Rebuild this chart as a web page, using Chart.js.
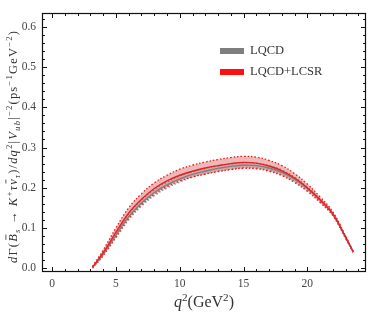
<!DOCTYPE html>
<html>
<head>
<meta charset="utf-8">
<script src="https://cdn.jsdelivr.net/npm/chart.js@4.4.1/dist/chart.umd.min.js"></script>
<style>
  html, body { margin: 0; background: #fff; }
  #wrap { width: 374px; height: 312px; }
</style>
</head>
<body>
<div id="wrap"><canvas id="chart"></canvas></div>
<script>
// Data (q^2 in GeV^2)
const q2 = [3.16, 4, 5, 6, 7, 8, 9, 10, 11, 12, 13, 14, 15, 16, 17, 18, 19, 20, 21, 22, 23, 23.6];

// LQCD+LCSR (red): central, upper and lower edge
const redMid = [0.002, 0.038, 0.089, 0.137, 0.171, 0.198, 0.217, 0.231, 0.241, 0.249, 0.255, 0.260, 0.263, 0.261, 0.254, 0.242, 0.224, 0.200, 0.170, 0.135, 0.077, 0.040];
const redHi  = [0.004, 0.045, 0.100, 0.150, 0.185, 0.212, 0.231, 0.246, 0.256, 0.264, 0.270, 0.275, 0.278, 0.276, 0.268, 0.255, 0.235, 0.209, 0.177, 0.140, 0.080, 0.041];
const redLo  = [0.000, 0.032, 0.078, 0.124, 0.158, 0.184, 0.203, 0.217, 0.227, 0.234, 0.240, 0.245, 0.248, 0.247, 0.241, 0.230, 0.213, 0.191, 0.163, 0.130, 0.074, 0.039];

// LQCD (gray)
const grayMid = [0.001, 0.034, 0.082, 0.128, 0.162, 0.188, 0.207, 0.222, 0.233, 0.241, 0.248, 0.253, 0.256, 0.255, 0.249, 0.238, 0.221, 0.198, 0.169, 0.134, 0.076, 0.040];
const grayHi  = [0.002, 0.038, 0.088, 0.135, 0.169, 0.195, 0.214, 0.229, 0.240, 0.248, 0.254, 0.259, 0.262, 0.261, 0.255, 0.244, 0.226, 0.202, 0.172, 0.136, 0.078, 0.041];
const grayLo  = [0.000, 0.030, 0.075, 0.120, 0.154, 0.180, 0.199, 0.214, 0.226, 0.234, 0.241, 0.246, 0.250, 0.249, 0.243, 0.232, 0.216, 0.194, 0.166, 0.132, 0.074, 0.039];

const xTickVals = [0, 5, 10, 15, 20];
const yTickVals = [0, 0.1, 0.2, 0.3, 0.4, 0.5, 0.6];
const legendLabels = ['LQCD', 'LQCD+LCSR'];

const RED = '#ff1010';
const GRAY = '#7f7f7f';
const SERIF = '"Liberation Serif", "DejaVu Serif", serif';

const pts = (ys) => q2.map((x, i) => ({ x, y: ys[i] }));
const line = (ys, color, order, extra = {}) => Object.assign({
  data: pts(ys), borderColor: color, borderWidth: 1.3, pointRadius: 0,
  tension: 0.4, fill: false, order
}, extra);

// y-axis title pieces: [text, italic, 'sub'|'sup'|null, bar]
const yTitle = [
  ['d', 1], ['Γ(', 0], ['B', 1, null, 1], ['s', 1, 'sub'], [' → ', 0], ['K', 1], ['+', 0, 'sup'],
  ['τ', 1], ['ν', 1, null, 1], ['τ', 1, 'sub'], [')/', 0], ['dq', 1], ['2', 0, 'sup'], ['|', 0],
  ['V', 1], ['ub', 1, 'sub'], ['|', 0], ['−2', 0, 'sup'], ['(ps', 0], ['−1', 0, 'sup'],
  ['GeV', 0], ['−2', 0, 'sup'], [')', 0]
];

// draws centred on the origin; if fitW is given the gaps between letters are widened to that width
function richText(ctx, parts, size, fitW) {
  const font = (p) => `${p[1] ? 'italic ' : ''}${p[2] ? size * 0.7 : size}px ${SERIF}`;
  let w = 0, n = 0;
  parts.forEach(p => { ctx.font = font(p); w += ctx.measureText(p[0]).width; n += [...p[0]].length; });
  const gap = fitW ? Math.max(0, (fitW - w) / (n - 1)) : 0;
  let x = -(w + gap * (n - 1)) / 2;
  parts.forEach(p => {
    ctx.font = font(p);
    const dy = p[2] === 'sub' ? size * 0.25 : p[2] === 'sup' ? -size * 0.4 : 0;
    const x0 = x;
    [...p[0]].forEach(ch => {
      ctx.fillText(ch, x, dy);
      x += ctx.measureText(ch).width + gap;
    });
    const tw = x - x0 - gap;
    if (p[3]) ctx.fillRect(x0 + tw * 0.25, -size * 0.92, tw * 0.7, 0.8);
  });
}

const decor = {
  id: 'decor',
  afterDatasetsDraw(chart) {
    const { ctx, chartArea: a, scales: { x, y } } = chart;
    ctx.save();
    // frame
    ctx.strokeStyle = '#111';
    ctx.lineWidth = 1.2;
    ctx.strokeRect(a.left + .5, a.top + .5, a.right - a.left - 1, a.bottom - a.top - 1);
    // inward ticks
    ctx.beginPath();
    ctx.lineWidth = 1;
    for (let v = 0; v <= 24; v++) {
      const px = Math.round(x.getPixelForValue(v)) + .5;
      const L = v % 5 ? 3 : 5;
      ctx.moveTo(px, a.bottom); ctx.lineTo(px, a.bottom - L);
      ctx.moveTo(px, a.top); ctx.lineTo(px, a.top + L);
    }
    for (let k = 0; k <= 31; k++) {
      const v = k * 0.02;
      if (v > y.max) break;
      const py = Math.round(y.getPixelForValue(v)) + .5;
      const L = k % 5 ? 3 : 5;
      ctx.moveTo(a.left, py); ctx.lineTo(a.left + L, py);
      ctx.moveTo(a.right, py); ctx.lineTo(a.right - L, py);
    }
    ctx.stroke();

    // legend
    const lx = 220, ly = [51, 72];
    [GRAY, RED].forEach((c, i) => {
      ctx.fillStyle = c;
      ctx.fillRect(lx, ly[i] - 3, 24, 6);
      ctx.fillStyle = '#333';
      ctx.font = `12.5px ${SERIF}`;
      ctx.textBaseline = 'middle';
      ctx.textAlign = 'left';
      ctx.fillText(legendLabels[i], lx + 30, ly[i]);
    });

    // x title
    ctx.fillStyle = '#333';
    ctx.textBaseline = 'alphabetic';
    ctx.save();
    ctx.translate((a.left + a.right) / 2, 307);
    richText(ctx, [['q', 1], ['2', 0, 'sup'], ['(GeV', 0], ['2', 0, 'sup'], [')', 0]], 16);
    ctx.restore();

    // y title
    ctx.save();
    ctx.translate(17, 147);
    ctx.rotate(-Math.PI / 2);
    richText(ctx, yTitle, 12.5, 232);
    ctx.restore();
    ctx.restore();
  }
};

new Chart(document.getElementById('chart'), {
  type: 'line',
  data: {
    datasets: [
      line(redMid, '#e82020', 1, { borderWidth: 1.4 }),
      line(grayMid, GRAY, 2, { borderWidth: 1.4 }),
      line(redHi, RED, 3, { borderDash: [1.5, 2], fill: '+1', backgroundColor: 'rgba(205,70,70,0.38)' }),
      line(redLo, RED, 3, { borderDash: [1.5, 2] }),
      line(grayHi, '#8a8a8a', 4, { borderDash: [1.5, 2], fill: '+1', backgroundColor: 'rgba(110,110,110,0.2)' }),
      line(grayLo, '#8a8a8a', 4, { borderDash: [1.5, 2] })
    ]
  },
  options: {
    responsive: true,
    maintainAspectRatio: false,
    animation: false,
    layout: { padding: { top: 13, right: 8, left: 0, bottom: 0 } },
    plugins: { legend: { display: false }, tooltip: { enabled: false } },
    scales: {
      x: {
        type: 'linear', min: -0.8, max: 24.6,
        afterFit: (s) => { s.height = 40; },
        afterBuildTicks: (s) => { s.ticks = xTickVals.map(v => ({ value: v })); },
        grid: { display: false, drawTicks: false },
        border: { display: false },
        ticks: { color: '#444', padding: 5, font: { family: SERIF, size: 11.5 }, callback: v => String(v) }
      },
      y: {
        type: 'linear', min: -0.01, max: 0.635,
        afterFit: (s) => { s.width = 42; },
        afterBuildTicks: (s) => { s.ticks = yTickVals.map(v => ({ value: v })); },
        grid: { display: false, drawTicks: false },
        border: { display: false },
        ticks: { color: '#444', padding: 6, font: { family: SERIF, size: 11.5 }, callback: v => Number(v).toFixed(1) }
      }
    }
  },
  plugins: [decor]
});
</script>
</body>
</html>
